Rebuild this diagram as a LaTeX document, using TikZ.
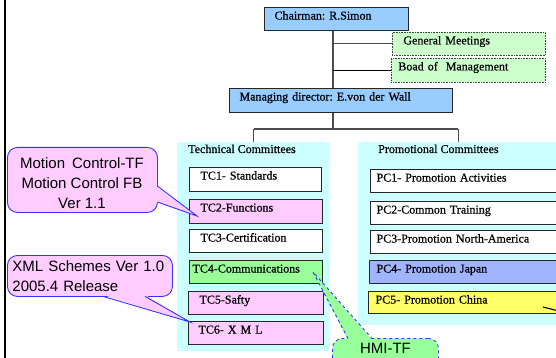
\documentclass[tikz,border=0pt]{standalone}
\usepackage{fontspec}
\setmainfont{Liberation Serif}[FakeBold=0.7]
\newfontfamily\calloutfont{Liberation Sans}
\usetikzlibrary{calc}
\definecolor{bluebox}{HTML}{99CCFF}
\definecolor{greenpale}{HTML}{CCFFCC}
\definecolor{cyanbg}{HTML}{CCFFFF}
\definecolor{pinkbox}{HTML}{FFCCFF}
\definecolor{greenbox}{HTML}{99FF99}
\definecolor{japanbox}{HTML}{A0B4FF}
\definecolor{yellowbox}{HTML}{FFFF66}
\definecolor{calloutblue}{HTML}{3333FF}
\frenchspacing
\begin{document}
\begin{tikzpicture}[x=1pt,y=-1pt,
  box/.style={draw=black!85, line width=1.1pt, anchor=north west, align=left,
    inner ysep=3pt, text height=9pt, font=\fontsize{12}{14}\selectfont},
  dotbox/.style={box, draw=black!75, line width=0.8pt, dash pattern=on 0.8pt off 0.8pt},
  bgpanel/.style={fill=cyanbg, anchor=north west, inner sep=0pt},
  paneltitle/.style={anchor=base west, inner sep=0pt, font=\fontsize{12}{14}\selectfont},
  conn/.style={draw=black!70, line width=1.2pt},
  calloutbody/.style={draw=calloutblue, line width=0.9pt, fill=pinkbox, rounded corners=10pt,
    anchor=north west, font=\calloutfont\fontsize{15}{20}\selectfont},
  callouttext/.style={inner sep=0pt, font=\calloutfont\fontsize{15}{20}\selectfont},
  hmibody/.style={draw=calloutblue, line width=0.9pt, dashed, fill=greenbox, rounded corners=10pt,
    anchor=north west, font=\calloutfont\fontsize{15}{20}\selectfont},
]
\useasboundingbox (0,0) rectangle (556,358);
\clip (0,0) rectangle (556,358);

% left rule
\coordinate (lt) at (5,0);
\coordinate (lb) at (5,358);
\draw[line width=2pt] (lt) -- (lb);

% panels
\node[bgpanel, minimum width=153, minimum height=209] (tcbg) at (177,142) {};
\node[bgpanel, minimum width=200, minimum height=183] (pcbg) at (358,142) {};
\node[paneltitle] (tctitle) at (188,153) {Technical Committees};
\node[paneltitle] (pctitle) at (378,153) {Promotional Committees};

% top boxes
\node[box, fill=bluebox, inner xsep=10pt, text width=124pt, text depth=8pt] (chair) at (264,7) {Chairman: R.Simon};
\node[dotbox, fill=greenpale, inner xsep=11pt, text width=131pt, text depth=8pt] (gm) at (392,32) {General Meetings};
\node[dotbox, fill=greenpale, inner xsep=7pt, text width=140pt, text depth=9pt] (bm) at (391,58) {Boad of\ \ Management};
\node[box, fill=bluebox, inner xsep=10pt, text width=203pt, text depth=9pt] (md) at (229,88) {Managing director: E.von der Wall};

% connectors
\coordinate (tx) at (333,0);
\coordinate (bus) at (0,129);
\draw[conn] (chair.south -| tx) -- (md.north -| tx);
\draw[conn] (gm.west -| tx) -- (gm.west);
\draw[line width=1.2pt] (bm.west -| tx) -- (bm.west);
\draw[conn] (md.south -| tx) -- (tx |- bus);
\draw[conn] (tcbg.north |- bus) -- (pcbg.north |- bus);
\draw[conn] (tcbg.north |- bus) -- (tcbg.north);
\draw[conn] (pcbg.north |- bus) -- (pcbg.north);

% technical committees
\node[box, fill=white, inner xsep=11pt, text width=110pt, text depth=9pt] (tc1) at (189,167) {TC1- Standards};
\node[box, fill=pinkbox, inner xsep=11pt, text width=111pt, text depth=9pt] (tc2) at (189,199) {TC2-Functions};
\node[box, fill=white, inner xsep=11pt, text width=111pt, text depth=8pt] (tc3) at (189,229) {TC3-Certification};
\node[box, fill=greenbox, inner xsep=3pt, text width=127pt, text depth=8pt] (tc4) at (189,260) {TC4-Communications};
\node[box, fill=pinkbox, inner xsep=11pt, text width=113pt, text depth=8pt] (tc5) at (188,291) {TC5-Safty};
\node[box, fill=pinkbox, inner xsep=10pt, text width=115pt, text depth=8pt] (tc6) at (188,321) {TC6- X M L};

% promotional committees
\node[box, fill=white, inner xsep=6pt, text width=188pt, text depth=8pt] (pc1) at (370,169) {PC1- Promotion Activities};
\node[box, fill=white, inner xsep=6pt, text width=188pt, text depth=8pt] (pc2) at (370,201) {PC2-Common Training};
\node[box, fill=white, inner xsep=6pt, text width=188pt, text depth=8pt] (pc3) at (370,230) {PC3-Promotion North-America};
\node[box, fill=japanbox, inner xsep=7pt, text width=186pt, text depth=8pt] (pc4) at (369,260) {PC4- Promotion Japan};
\node[box, fill=yellowbox, inner xsep=7pt, text width=186pt, text depth=7pt] (pc5) at (368,291) {PC5- Promotion China};
\coordinate (pcx1) at (543,307);
\coordinate (pcx2) at (582,317);
\draw[line width=1.1pt] (pcx1) -- (pcx2);

% callout 1
\node[calloutbody, minimum width=150, minimum height=65] (c1) at (7,147) {};
\coordinate (c1tip) at (197,216);
\fill[pinkbox] ($(c1.north east)+(-2,39)$) -- (c1tip) -- ($(c1.north east)+(-2,55)$) -- cycle;
\draw[draw=calloutblue, line width=0.9pt] ($(c1.north east)+(-0.5,39)$) -- (c1tip) -- ($(c1.north east)+(-0.5,55)$);
\node[callouttext, align=center] (c1text) at (82,183) {Motion\hspace{7pt}Control-TF\\Motion Control FB\\Ver 1.1};

% callout 2
\node[calloutbody, minimum width=165, minimum height=41, align=left, text width=155pt, inner xsep=5pt] (c2) at (7,255)
  {XML Schemes Ver 1.0\\2005.4 Release};
\coordinate (c2tip) at (190,322);
\fill[pinkbox] ($(c2.south west)+(96,-2)$) -- (c2tip) -- ($(c2.south west)+(138,-2)$) -- cycle;
\draw[draw=calloutblue, line width=0.9pt] ($(c2.south west)+(96,-0.5)$) -- (c2tip) -- ($(c2.south west)+(138,-0.5)$);

% callout HMI
\node[hmibody, minimum width=106, inner ysep=2pt, text height=13.5pt, text depth=24.5pt] (hmi) at (332,338) {HMI-TF};
\coordinate (hmitip) at (313,272);
\fill[greenbox] ($(hmi.north west)+(16,2)$) -- (hmitip) -- ($(hmi.north west)+(40,2)$) -- cycle;
\draw[draw=calloutblue, line width=0.9pt, dashed] ($(hmi.north west)+(16,0.5)$) -- (hmitip) -- ($(hmi.north west)+(40,0.5)$);
\end{tikzpicture}
\end{document}
